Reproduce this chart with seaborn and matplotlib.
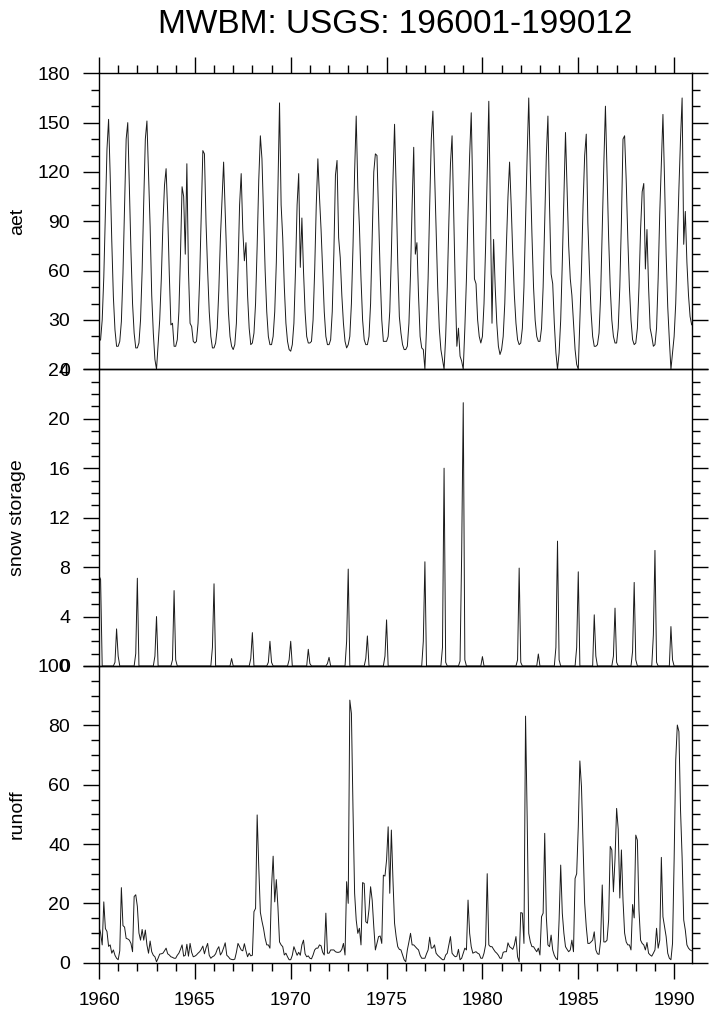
import numpy as np
import pandas as pd
import matplotlib
matplotlib.use("Agg")
import matplotlib.pyplot as plt
import seaborn as sns
from matplotlib.ticker import MultipleLocator

# monthly values, one row per year (Jan..Dec), 1960-1990
years = list(range(1960, 1991))

aet = [
    [17, 18, 30, 56, 96, 134, 152, 118, 78, 44, 24, 14],
    [14, 17, 29, 58, 100, 140, 150, 112, 72, 40, 22, 13],
    [13, 16, 30, 60, 102, 140, 151, 118, 87, 45, 22, 6],
    [0, 15, 30, 55, 88, 112, 122, 95, 58, 27, 28, 14],
    [14, 18, 35, 70, 111, 105, 70, 125, 60, 28, 26, 17],
    [16, 17, 28, 55, 95, 133, 131, 89, 60, 35, 20, 13],
    [13, 16, 25, 48, 80, 103, 126, 95, 62, 35, 20, 14],
    [12, 15, 28, 60, 100, 119, 85, 66, 77, 45, 25, 15],
    [16, 22, 40, 75, 115, 142, 128, 95, 60, 35, 20, 15],
    [15, 20, 35, 65, 110, 162, 100, 80, 50, 28, 17, 12],
    [11, 15, 28, 60, 100, 119, 62, 92, 60, 35, 20, 16],
    [16, 17, 30, 60, 100, 128, 105, 85, 60, 35, 20, 15],
    [15, 18, 35, 70, 118, 127, 80, 68, 45, 28, 17, 13],
    [15, 20, 40, 75, 120, 154, 110, 87, 55, 30, 18, 15],
    [15, 20, 40, 80, 120, 131, 130, 95, 58, 30, 17, 17],
    [17, 20, 35, 70, 115, 149, 110, 65, 32, 22, 15, 12],
    [12, 14, 28, 58, 100, 135, 70, 77, 45, 20, 13, 12],
    [0, 25, 55, 100, 140, 157, 122, 85, 50, 25, 12, 6],
    [0, 20, 50, 90, 125, 142, 95, 50, 14, 25, 8, 5],
    [0, 25, 55, 95, 130, 156, 105, 55, 52, 30, 20, 16],
    [20, 40, 75, 120, 163, 95, 28, 79, 50, 28, 14, 9],
    [12, 20, 40, 75, 105, 126, 100, 70, 45, 28, 18, 15],
    [16, 25, 50, 90, 130, 165, 120, 82, 50, 30, 20, 17],
    [17, 25, 50, 90, 130, 154, 100, 58, 52, 28, 10, 0],
    [10, 30, 65, 105, 144, 110, 75, 55, 45, 28, 12, 3],
    [0, 30, 60, 100, 130, 143, 89, 60, 35, 20, 14, 14],
    [15, 22, 45, 85, 125, 160, 120, 80, 50, 30, 20, 16],
    [16, 25, 50, 90, 140, 142, 115, 80, 50, 30, 18, 15],
    [16, 25, 50, 85, 108, 113, 61, 85, 50, 25, 20, 14],
    [15, 25, 55, 95, 125, 155, 115, 70, 38, 18, 0, 10],
    [20, 40, 75, 110, 140, 165, 76, 96, 65, 45, 32, 27],
]

snow = [
    [7.3, 7.0, 0, 0, 0, 0, 0, 0, 0, 0, 0.3, 3.0],
    [0.8, 0, 0, 0, 0, 0, 0, 0, 0, 0, 0, 1.0],
    [7.1, 0, 0, 0, 0, 0, 0, 0, 0, 0, 0, 0.8],
    [4.0, 0, 0, 0, 0, 0, 0, 0, 0, 0, 0.5, 6.1],
    [0.5, 0, 0, 0, 0, 0, 0, 0, 0, 0, 0, 0],
    [0, 0, 0, 0, 0, 0, 0, 0, 0, 0, 0, 1.5],
    [6.65, 0, 0, 0, 0, 0, 0, 0, 0, 0, 0, 0.6],
    [0, 0, 0, 0, 0, 0, 0, 0, 0, 0, 0, 0.6],
    [2.7, 0, 0, 0, 0, 0, 0, 0, 0, 0, 0.3, 2.0],
    [0.3, 0, 0, 0, 0, 0, 0, 0, 0, 0, 0, 0.5],
    [2.0, 0, 0, 0, 0, 0, 0, 0, 0, 0, 0, 1.35],
    [0.2, 0, 0, 0, 0, 0, 0, 0, 0, 0, 0, 0.2],
    [0.7, 0, 0, 0, 0, 0, 0, 0, 0, 0, 0, 2.0],
    [7.84, 0, 0, 0, 0, 0, 0, 0, 0, 0, 0, 0.6],
    [2.43, 0, 0, 0, 0, 0, 0, 0, 0, 0, 0, 0.8],
    [3.73, 0, 0, 0, 0, 0, 0, 0, 0, 0, 0, 0],
    [0, 0, 0, 0, 0, 0, 0, 0, 0, 0, 0, 2.0],
    [8.43, 0, 0, 0, 0, 0, 0, 0, 0, 0, 0, 1.5],
    [16.0, 0.3, 0, 0, 0, 0, 0, 0, 0, 0, 0.4, 9.0],
    [21.3, 0.5, 0, 0, 0, 0, 0, 0, 0, 0, 0, 0],
    [0.76, 0, 0, 0, 0, 0, 0, 0, 0, 0, 0, 0],
    [0, 0, 0, 0, 0, 0, 0, 0, 0, 0, 0.5, 7.92],
    [0.3, 0, 0, 0, 0, 0, 0, 0, 0, 0, 0, 0.97],
    [0, 0, 0, 0, 0, 0, 0, 0, 0, 0, 1.5, 10.1],
    [0.5, 0, 0, 0, 0, 0, 0, 0, 0, 0, 0, 1.5],
    [7.62, 0, 0, 0, 0, 0, 0, 0, 0, 0, 4.14, 0.8],
    [0, 0, 0, 0, 0, 0, 0, 0, 0, 0, 0.8, 4.68],
    [0.3, 0, 0, 0, 0, 0, 0, 0, 0, 0, 1.2, 6.76],
    [0.5, 0, 0, 0, 0, 0, 0, 0, 0, 0, 0, 2.5],
    [9.35, 0.3, 0, 0, 0, 0, 0, 0, 0, 0, 3.19, 0.5],
    [0, 0, 0, 0, 0, 0, 0, 0, 0, 0, 0, 0],
]

runoff = [
    [12, 10, 6, 20.5, 11.5, 10.5, 5.5, 6, 3.2, 4.3, 2.5, 1.5],
    [1, 4, 25.3, 12.5, 12, 8.2, 8, 7.6, 6.5, 3.7, 22.3, 22.9],
    [19, 10, 7.6, 11.2, 7.6, 11, 6, 3.2, 7.3, 3.7, 2.5, 2],
    [0.3, 1.5, 2.9, 3.0, 3.2, 4.0, 4.9, 3.0, 2.6, 2.0, 1.8, 1.5],
    [1.5, 2.5, 3.2, 4.5, 6, 2.2, 2.5, 6.2, 2.2, 6.5, 3.5, 2],
    [2.2, 2.6, 3.2, 3.7, 4.5, 5.6, 3.0, 5.0, 6.5, 2.5, 1.5, 2.0],
    [2.3, 3.0, 4.5, 5.4, 2.6, 3.5, 5.0, 6.7, 2.5, 2.0, 1.3, 1.1],
    [1.0, 1.2, 3.5, 6.5, 5.4, 4.3, 4.0, 6.4, 4.0, 2.0, 3.2, 2.3],
    [2.5, 17.2, 18.3, 49.8, 32.4, 17, 14, 11.5, 8.2, 6, 6, 4.9],
    [25.6, 35.9, 20.5, 28, 18.8, 7, 6, 5.4, 2.6, 3.2, 2, 1],
    [1, 2.5, 5.4, 4, 2.5, 3.5, 2.5, 6, 7.6, 3, 2, 2.3],
    [1.5, 1.3, 2.6, 4.3, 4.9, 4.9, 6.0, 5.7, 3.5, 2.6, 16.7, 3.2],
    [3.2, 4.3, 4.3, 4.3, 3.7, 3.5, 3.5, 3.7, 4.5, 6.5, 2.6, 27.3],
    [20, 88.5, 84, 51.5, 23.4, 14.4, 9.9, 11.6, 6, 27, 26.7, 13.8],
    [13.3, 18, 25.6, 21.1, 12.1, 4.3, 6.5, 8.8, 9, 6.5, 29.5, 29.2],
    [34.6, 45.8, 23.4, 44.7, 28, 13.3, 8.8, 5.4, 4.5, 4.3, 2.6, 1.0],
    [0.3, 4.3, 7, 9.9, 6, 6, 5.4, 4.8, 4.3, 2.5, 1.5, 1.5],
    [1.5, 3, 4.3, 8.6, 4.9, 5, 6, 3.2, 2.5, 2, 1.5, 1],
    [1, 2.6, 3.2, 6, 8.8, 3.2, 2.5, 2, 2.2, 4.5, 1, 1.5],
    [3.2, 4.9, 4.3, 21.1, 9.9, 5.4, 3.2, 3.5, 3.7, 3.2, 2.9, 1.5],
    [1.5, 3.2, 6, 30, 6, 5.4, 5.4, 4.5, 3.7, 3.2, 2.5, 1.5],
    [1.5, 3.5, 3.7, 3.7, 6.7, 5.4, 5, 4.5, 6, 8.8, 2, 0.3],
    [16.9, 16.7, 6.5, 83.1, 49.2, 9.9, 7, 5.4, 5.4, 4.5, 3.7, 4.9],
    [2.6, 15.5, 16.7, 43.6, 15.5, 6, 5.4, 9.3, 4.3, 2.5, 1.5, 1],
    [14.4, 32.9, 16.7, 9.9, 5.4, 4.5, 3.7, 4.3, 7.6, 3.7, 28.4, 30],
    [45.8, 68, 59.4, 39.2, 20.1, 12.1, 6.5, 6.5, 7, 7.6, 10.4, 4.3],
    [3, 2.8, 7.6, 26.2, 7, 7, 7.6, 14.4, 39.2, 38, 23.9, 35],
    [52, 45, 21.8, 38, 21.1, 10, 7, 6, 6, 4.3, 19.6, 15.1],
    [43, 41.3, 17.7, 7.6, 6.5, 6, 4.3, 6.8, 3.2, 2.6, 2.2, 3.2],
    [4.3, 11.6, 4.9, 7.6, 35.5, 15.5, 12.1, 8.8, 3.2, 1.5, 1, 6.5],
    [34.6, 68.3, 80.1, 77.9, 51.5, 35.5, 14.4, 11, 6, 4.9, 4.3, 4],
]

sns.set_style("ticks")
plt.rcParams['font.family'] = ['Liberation Sans', 'DejaVu Sans']
plt.rcParams.update({
    "text.color": "black", "axes.labelcolor": "black",
    "xtick.color": "black", "ytick.color": "black", "axes.edgecolor": "black",
    "xtick.direction": "out", "ytick.direction": "out",
    "xtick.major.size": 11.3, "ytick.major.size": 11.3,
    "xtick.minor.size": 6, "ytick.minor.size": 6,
    "xtick.major.width": 1.0, "ytick.major.width": 1.0,
    "xtick.minor.width": 1.0, "ytick.minor.width": 1.0,
    "xtick.major.pad": 10, "ytick.major.pad": 9.5,
    "xtick.labelsize": 13.5, "ytick.labelsize": 14,
})

time = [y + m / 12.0 for y in years for m in range(12)]
df = pd.DataFrame({
    "time": time,
    "aet": np.ravel(aet),
    "snow": np.ravel(snow),
    "runoff": np.ravel(runoff),
})

fig = plt.figure(figsize=(7.16, 10.16), dpi=100)
W, H = 716.0, 1016.0
x0, x1 = 99.0, 691.7

# (column, label, ymax, major, minor, top px, bottom px)
panels = [
    ("aet", "aet", 180, 30, 10, 73.3, 369.3),
    ("snow", "snow storage", 24, 4, 1, 369.3, 666.0),
    ("runoff", "runoff", 100, 20, 5, 666.0, 962.7),
]

for i, (col, lab, ymax, major, minor, top, bot) in enumerate(panels):
    ax = fig.add_axes([x0 / W, 1 - bot / H, (x1 - x0) / W, (bot - top) / H])
    sns.lineplot(data=df, x="time", y=col, ax=ax, color="#1a1a1a",
                 linewidth=0.7, estimator=None)
    ax.set_xlim(1960, 1990 + 11 / 12.0)
    ax.set_ylim(0, ymax)
    ax.yaxis.set_major_locator(MultipleLocator(major))
    ax.yaxis.set_minor_locator(MultipleLocator(minor))
    ax.xaxis.set_major_locator(MultipleLocator(5))
    ax.xaxis.set_minor_locator(MultipleLocator(1))
    for s in ax.spines.values():
        s.set_linewidth(1.0)
        s.set_color("black")
    ax.tick_params(axis="y", which="both", left=True, right=True,
                   labelleft=True, labelright=False)
    ax.tick_params(axis="x", which="both", top=(i == 0), bottom=(i == 2),
                   labeltop=False, labelbottom=(i == 2))
    ax.set_xlabel("")
    ax.set_ylabel(lab, fontsize=14, va="center", color="black")
    ax.yaxis.set_label_coords((17.5 - x0) / (x1 - x0), 0.5)
    ax.patch.set_alpha(0)

fig.text((x0 + x1) / 2 / W, 1 - 33.3 / H, "MWBM: USGS: 196001-199012",
         ha="center", va="baseline", fontsize=24, color="black")

fig.savefig("out.png", dpi=100)
